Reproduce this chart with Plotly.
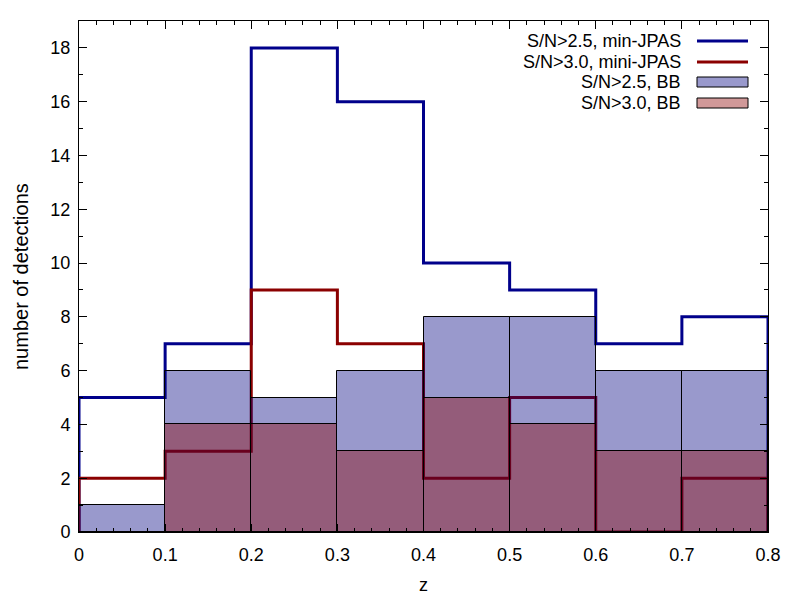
import numpy as np
import plotly.graph_objects as go

# bin edges in z and the counts per bin
z_edges = [0.0, 0.1, 0.2, 0.3, 0.4, 0.5, 0.6, 0.7, 0.8]
z_labels = ["0", "0.1", "0.2", "0.3", "0.4", "0.5", "0.6", "0.7", "0.8"]
sn25_jpas = [5, 7, 18, 16, 10, 9, 7, 8]
sn30_jpas = [2, 3, 9, 7, 2, 5, 0, 2]
sn25_bb = [1, 6, 5, 6, 8, 8, 6, 6]
sn30_bb = [0, 4, 4, 3, 5, 4, 3, 3]

names = ["S/N>2.5, min-JPAS", "S/N>3.0, mini-JPAS", "S/N>2.5, BB", "S/N>3.0, BB"]
colors = ["#00008b", "#8b0000", "rgba(0,0,128,0.4)", "rgba(139,0,0,0.4)"]

FONT = "Liberation Sans, Arial, sans-serif"
FS = 18


def steps(edges, vals):
    # outline of a histogram: up from 0, across each bin, back down to 0
    xs, ys = [edges[0]], [0]
    for i, v in enumerate(vals):
        xs += [edges[i], edges[i + 1]]
        ys += [v, v]
    xs.append(edges[-1])
    ys.append(0)
    return xs, ys


edges = np.array(z_edges)
centers = (edges[:-1] + edges[1:]) / 2
widths = np.diff(edges)

fig = go.Figure()

# step lines on the base axes, so the translucent bars cover them
for vals, col in [(sn25_jpas, colors[0]), (sn30_jpas, colors[1])]:
    xs, ys = steps(z_edges, vals)
    fig.add_trace(go.Scatter(x=xs, y=ys, mode="lines", cliponaxis=False,
                             line=dict(color=col, width=3), showlegend=False))

for vals, col in [(sn25_bb, colors[2]), (sn30_bb, colors[3])]:
    fig.add_trace(go.Bar(x=centers, y=vals, width=widths, xaxis="x2", yaxis="y2",
                         marker=dict(color=col, line=dict(color="black", width=1)),
                         showlegend=False))

# plot area in page pixels (page has an 8px body margin)
OFF = 8
L, R, T, B = 79, 768, 21, 532
PW, PH = R - L, B - T

# gnuplot style key: right aligned text with sample on its right
rows_y = [41, 62, 82, 103]
for i, (nm, col) in enumerate(zip(names, colors)):
    yp = 1 - (rows_y[i] - T) / PH
    fig.add_annotation(x=(683 - L) / PW, y=yp, xref="paper", yref="paper",
                       text=nm, showarrow=False, xanchor="right", yanchor="middle",
                       font=dict(family=FONT, size=FS, color="black"))
    x0 = (697 - L) / PW
    x1 = (748 - L) / PW
    if i < 2:
        fig.add_shape(type="line", xref="paper", yref="paper", x0=x0, x1=x1,
                      y0=yp, y1=yp, line=dict(color=col, width=3))
    else:
        fig.add_shape(type="rect", xref="paper", yref="paper", x0=x0, x1=x1,
                      y0=yp - 5 / PH, y1=yp + 5 / PH, fillcolor=col,
                      line=dict(color="black", width=1))

# axis titles
fig.add_annotation(x=(423 - L) / PW, y=-(585 - B) / PH, xref="paper", yref="paper",
                   text="z", showarrow=False, xanchor="center", yanchor="middle",
                   font=dict(family=FONT, size=FS, color="black"))
fig.add_annotation(x=-(L - 21) / PW, y=(B - 277) / PH, xref="paper", yref="paper",
                   text="number of detections", showarrow=False, textangle=-90,
                   xanchor="center", yanchor="middle",
                   font=dict(family=FONT, size=20, color="black"))

axis_common = dict(showline=True, linecolor="black", linewidth=1, mirror="allticks",
                   ticks="inside", ticklen=8, tickcolor="black", showgrid=False,
                   zeroline=False, automargin=False,
                   tickfont=dict(family=FONT, size=FS, color="black"))

fig.update_layout(
    xaxis=dict(range=[0, 0.8], tickmode="array", tickvals=z_edges, ticktext=z_labels,
               minor=dict(ticks="inside", ticklen=4, dtick=0.02, tickcolor="black"),
               ticklabelstandoff=6, **axis_common),
    yaxis=dict(range=[0, 19], dtick=2,
               minor=dict(ticks="inside", ticklen=4, dtick=1, tickcolor="black"),
               ticklabelstandoff=4, **axis_common),
    xaxis2=dict(range=[0, 0.8], overlaying="x", visible=False),
    yaxis2=dict(range=[0, 19], overlaying="y", visible=False),
)

fig.update_layout(width=800, height=600, barmode="overlay", bargap=0,
                  plot_bgcolor="white", paper_bgcolor="white",
                  margin=dict(l=L - OFF, r=800 + OFF - R, t=T - OFF, b=600 + OFF - B))

fig.write_html("out.html")
